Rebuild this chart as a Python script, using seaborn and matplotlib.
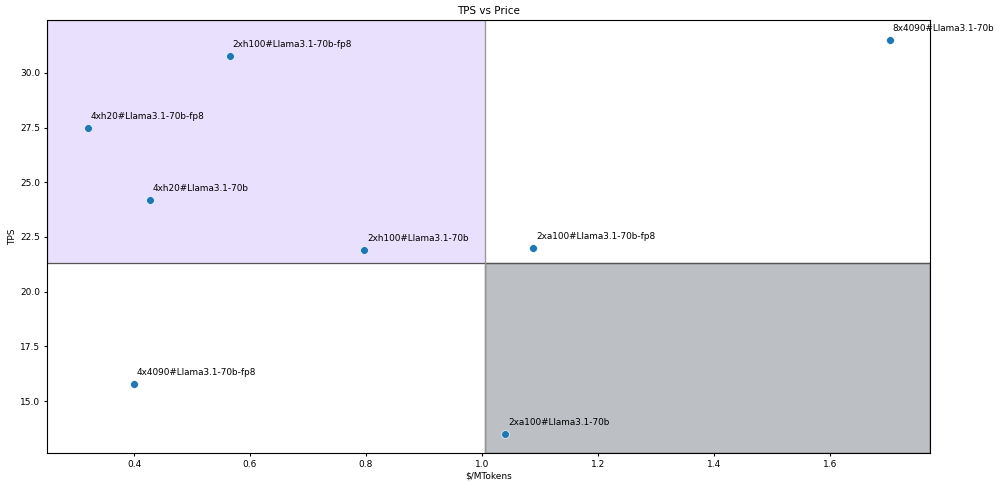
import matplotlib
matplotlib.use('Agg')
import matplotlib.pyplot as plt
import seaborn as sns
import pandas as pd
from matplotlib.patches import Rectangle

# TPS vs price per deployment
names = ['2xh100#Llama3.1-70b-fp8', '4xh20#Llama3.1-70b-fp8', '4xh20#Llama3.1-70b',
         '2xh100#Llama3.1-70b', '2xa100#Llama3.1-70b-fp8', '8x4090#Llama3.1-70b',
         '4x4090#Llama3.1-70b-fp8', '2xa100#Llama3.1-70b']
price = [0.565, 0.320, 0.427, 0.797, 1.088, 1.703, 0.400, 1.040]
tps = [30.78, 27.48, 24.18, 21.90, 22.00, 31.51, 15.80, 13.49]

x_split = 1.005
y_split = 21.29

df = pd.DataFrame({'name': names, 'price': price, 'tps': tps})

plt.rcParams['font.size'] = 6.5
fig = plt.figure(figsize=(10, 4.82), dpi=100)
ax = fig.add_axes([0.047, 0.06, 0.883, 0.8985])

xlim = (0.25, 1.7724)
ylim = (12.62, 32.42)
ax.set_xlim(xlim)
ax.set_ylim(ylim)

# quadrants
ax.add_patch(Rectangle((xlim[0], y_split), x_split - xlim[0], ylim[1] - y_split,
                       facecolor='#e8e0fc', edgecolor='#b0b0b0', lw=1, zorder=0))
ax.add_patch(Rectangle((x_split, ylim[0]), xlim[1] - x_split, y_split - ylim[0],
                       facecolor='#bcbfc4', edgecolor='#555555', lw=1, zorder=0))
ax.axhline(y_split, color='#555555', lw=0.8, zorder=1)
ax.axvline(x_split, color='#999999', lw=0.8, zorder=1)

sns.scatterplot(data=df, x='price', y='tps', ax=ax, color='#1f77b4', s=32, zorder=3)
for _, r in df.iterrows():
    ax.annotate(r['name'], (r['price'], r['tps']), xytext=(3, 9),
                textcoords='offset pixels', va='baseline', fontsize=6.4, zorder=4)

ax.set_title('TPS vs Price', fontsize=7.5, pad=4)
ax.set_xlabel('$/MTokens', fontsize=6.5, labelpad=2)
ax.set_ylabel('TPS', fontsize=6.5, labelpad=2)
ax.tick_params(labelsize=6.5, length=2.5, pad=2.5)

fig.savefig('out.png', dpi=100)
